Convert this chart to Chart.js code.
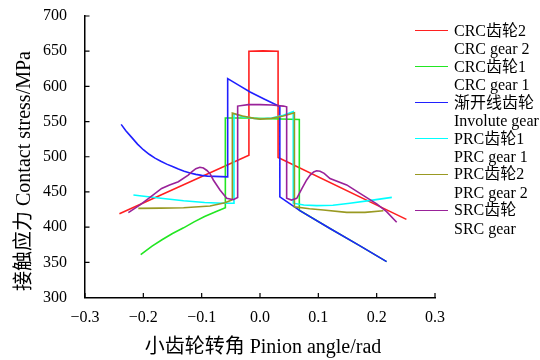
<!DOCTYPE html>
<html>
<head>
<meta charset="utf-8">
<script src="https://cdn.jsdelivr.net/npm/chart.js@4.4.0/dist/chart.umd.min.js"></script>
<style>
  html, body { margin: 0; padding: 0; background: #fff; }
  #wrap { position: relative; width: 540px; height: 360px; overflow: hidden; }
  #legend { position: absolute; left: 415px; top: 0; font-family: "Liberation Serif", "Noto Sans CJK SC", serif; font-size: 16px; color: #000; }
  .item { position: absolute; left: 0; white-space: nowrap; }
  .swatch { position: absolute; left: 0; top: -1px; width: 33px; height: 0; border-top: 1.5px solid; }
  .label { position: absolute; left: 39px; top: -9.5px; line-height: 18.5px; }
</style>
</head>
<body>
<div id="wrap">
  <canvas id="chart" width="540" height="360"></canvas>
  <div id="legend"></div>
</div>
<script>
// axis ticks
const xTicks = [-0.3, -0.2, -0.1, 0.0, 0.1, 0.2, 0.3];
const yTicks = [300, 350, 400, 450, 500, 550, 600, 650, 700];
const xTitle = '小齿轮转角 Pinion angle/rad';
const yTitle = '接触应力 Contact stress/MPa';

// CRC gear 2 (red)
const crc2X = [-0.241, -0.019, -0.019, 0.005, 0.031, 0.031, 0.251];
const crc2Y = [419, 502, 650, 650.5, 650, 499, 411];

// CRC gear 1 (green)
const crc1X = [-0.2045, -0.185, -0.168, -0.15, -0.131, -0.113, -0.095, -0.077, -0.0594, -0.0594, -0.02, 0.02, 0.0674, 0.0674, 0.12, 0.17, 0.217];
const crc1Y = [361, 373, 382, 391, 399, 407.5, 415, 421.5, 427.5, 555, 555, 554, 553, 424, 398, 374, 351];

// Involute gear (blue)
const involuteX = [-0.238, -0.23, -0.22, -0.21, -0.2, -0.19, -0.18, -0.17, -0.16, -0.15, -0.14, -0.13, -0.12, -0.11, -0.1, -0.09, -0.0554, -0.0554, -0.036, -0.017, 0.007, 0.031, 0.034, 0.034, 0.069, 0.12, 0.17, 0.217];
const involuteY = [546, 537, 527.5, 518, 510, 503.5, 498, 493.5, 489.5, 486, 482.5, 479.5, 477, 475, 473.5, 472.5, 471.5, 611, 601.5, 592, 582, 572.5, 572, 443, 423, 398, 374, 351];

// PRC gear 1 (cyan)
const prc1X = [-0.217, -0.17, -0.131, -0.095, -0.063, -0.0446, -0.0446, -0.03, -0.01, 0.0, 0.02, 0.04, 0.057, 0.057, 0.075, 0.097, 0.125, 0.154, 0.19, 0.226];
const prc1Y = [445.6, 441, 437.5, 435, 434, 434, 561, 557, 554.5, 554, 555, 559, 564, 434, 431.5, 430.5, 431, 434, 438, 442.3];

// PRC gear 2 (olive)
const prc2X = [-0.2086, -0.17, -0.131, -0.0857, -0.06, -0.0486, -0.0474, -0.0474, -0.03, -0.01, 0.0, 0.02, 0.04, 0.059, 0.059, 0.085, 0.1086, 0.1486, 0.18, 0.2114];
const prc2Y = [426.7, 427, 427.6, 430, 434.7, 438.5, 440, 562, 558, 554.5, 553.5, 554.5, 558, 562.5, 429, 426, 424.3, 421, 421, 423.3];

// SRC gear (purple)
const srcX = [-0.2257, -0.205, -0.1886, -0.1686, -0.155, -0.14, -0.123, -0.117, -0.11, -0.103, -0.097, -0.091, -0.0857, -0.08, -0.0686, -0.0571, -0.0457, -0.0383, -0.0383, -0.02, 0.0, 0.02, 0.04, 0.0457, 0.0457, 0.054, 0.063, 0.072, 0.08, 0.086, 0.092, 0.097, 0.103, 0.11, 0.12, 0.1486, 0.1714, 0.2, 0.217, 0.2343];
const srcY = [420.5, 432, 442.3, 455, 460, 464.5, 474, 478.5, 483, 485, 484, 480.5, 476, 467, 452.7, 441, 439, 442, 572, 574, 574, 573.5, 572, 571, 441, 438.5, 441, 455, 467, 474, 478.5, 480, 479.5, 476.5, 469, 460, 448, 433, 422, 407];

const seriesNames = [
  ['CRC齿轮2', 'CRC gear 2'],
  ['CRC齿轮1', 'CRC gear 1'],
  ['渐开线齿轮', 'Involute gear'],
  ['PRC齿轮1', 'PRC gear 1'],
  ['PRC齿轮2', 'PRC gear 2'],
  ['SRC齿轮', 'SRC gear']
];
const seriesColors = ['#ff2020', '#22e622', '#2020ff', '#00ffff', '#999922', '#992299'];
const seriesX = [crc2X, crc1X, involuteX, prc1X, prc2X, srcX];
const seriesY = [crc2Y, crc1Y, involuteY, prc1Y, prc2Y, srcY];

const serif = "'Liberation Serif', 'Noto Sans CJK SC', serif";

const datasets = seriesX.map((xs, i) => ({
  label: seriesNames[i].join(' '),
  data: xs.map((x, k) => ({ x: x, y: seriesY[i][k] })),
  borderColor: seriesColors[i],
  borderWidth: 1.6,
  pointRadius: 0,
  fill: false,
  tension: 0,
  order: seriesX.length - i
}));

// ticks drawn on the inside of the axes
const innerTicks = {
  id: 'innerTicks',
  afterDraw(chart) {
    const { ctx, chartArea: a } = chart;
    const sx = chart.scales.x, sy = chart.scales.y;
    ctx.save();
    ctx.strokeStyle = '#000';
    ctx.lineWidth = 1.2;
    ctx.beginPath();
    xTicks.forEach(v => {
      const px = sx.getPixelForValue(v);
      ctx.moveTo(px, a.bottom);
      ctx.lineTo(px, a.bottom - 4.5);
    });
    yTicks.forEach(v => {
      const py = sy.getPixelForValue(v);
      ctx.moveTo(a.left, py);
      ctx.lineTo(a.left + 4.5, py);
    });
    ctx.stroke();
    ctx.restore();
  }
};

// axis titles
const axisTitles = {
  id: 'axisTitles',
  afterDraw(chart) {
    const { ctx, chartArea: a } = chart;
    ctx.save();
    ctx.fillStyle = '#000';
    ctx.font = '20px ' + serif;
    ctx.textAlign = 'center';
    ctx.textBaseline = 'middle';
    ctx.fillText(xTitle, (a.left + a.right) / 2 + 3, 348);
    ctx.translate(25, 171);
    ctx.rotate(-Math.PI / 2);
    ctx.fillText(yTitle, 0, 0);
    ctx.restore();
  }
};

new Chart(document.getElementById('chart'), {
  type: 'line',
  data: { datasets: datasets },
  options: {
    responsive: false,
    animation: false,
    layout: { padding: { top: 16, right: 105, left: 0, bottom: 0 } },
    plugins: { legend: { display: false }, tooltip: { enabled: false } },
    scales: {
      x: {
        type: 'linear',
        min: xTicks[0],
        max: xTicks[xTicks.length - 1],
        afterBuildTicks: s => { s.ticks = xTicks.map(v => ({ value: v })); },
        afterFit: s => { s.height = 62.5; },
        grid: { display: true, drawOnChartArea: false, drawTicks: false },
        border: { display: true, color: '#000', width: 1.5 },
        ticks: {
          padding: 11,
          color: '#000',
          font: { family: serif, size: 16 },
          maxRotation: 0,
          callback: v => (Math.abs(v) < 1e-9 ? '0.0' : v.toFixed(1)).replace('-', '\u2212')
        }
      },
      y: {
        min: yTicks[0],
        max: yTicks[yTicks.length - 1],
        afterBuildTicks: s => { s.ticks = yTicks.map(v => ({ value: v })); },
        afterFit: s => { s.width = 85; s.paddingTop = 0; s.paddingBottom = 0; },
        grid: { display: true, drawOnChartArea: false, drawTicks: false },
        border: { display: true, color: '#000', width: 1.5 },
        ticks: {
          padding: 18,
          color: '#000',
          font: { family: serif, size: 16 }
        }
      }
    }
  },
  plugins: [innerTicks, axisTitles]
});

// legend, drawn as html text over the right part of the chart
const legendY = [31, 67, 103, 139, 174.5, 210.5];
const legend = document.getElementById('legend');
seriesNames.forEach((names, i) => {
  const item = document.createElement('div');
  item.className = 'item';
  item.style.top = legendY[i] + 'px';
  const sw = document.createElement('div');
  sw.className = 'swatch';
  sw.style.borderTopColor = seriesColors[i];
  const lab = document.createElement('div');
  lab.className = 'label';
  lab.innerHTML = names[0] + '<br>' + names[1];
  item.appendChild(sw);
  item.appendChild(lab);
  legend.appendChild(item);
});
</script>
</body>
</html>
